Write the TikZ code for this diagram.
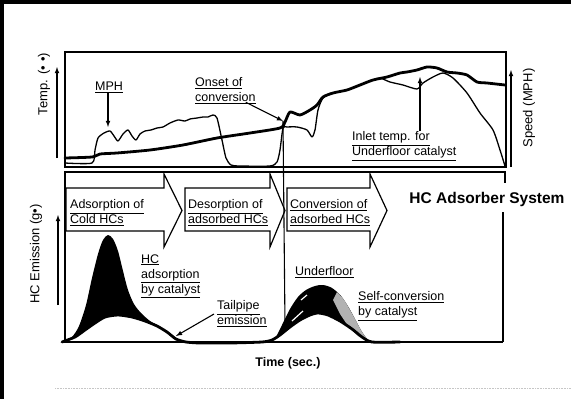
\documentclass[tikz,border=0pt]{standalone}
\usepackage{fontspec}
\setmainfont{Liberation Sans}
\usetikzlibrary{arrows,positioning}

\begin{document}
\begin{tikzpicture}[x=1pt,y=-1pt,
  lbl/.style={inner sep=0pt,font=\fontsize{12.5}{15}\selectfont,align=left},
  ax/.style={inner sep=0pt,font=\fontsize{13}{15}\selectfont,rotate=90},
  frm/.style={line width=1.1pt},
  spd/.style={line width=1.3pt,line join=round},
  tmp/.style={line width=2.8pt,line join=round,line cap=round},
  phase/.style={line width=1.2pt,line join=miter}]
\useasboundingbox (0,0) rectangle (571,399);

% scan border
\fill (0,0) rectangle (571,4);
\fill (0,0) rectangle (4,399);
\draw[gray!45,densely dotted,line width=0.6pt] (55,388) -- (571,388);

% upper panel
\draw[frm] (65,52) rectangle (506,167);
\draw[->,>=latex,frm] (57,158) -- (57,67);
\draw[->,>=latex,frm] (511,167) -- (511,70);
\node[ax] (temp) at (44,84) {Temp. (•\,\,•)};
\node[ax] (speed) at (529,108) {Speed (MPH)};

\draw[spd] plot[smooth,tension=0.4] coordinates{(65,163)(92,163)(95,150)(98,138)(104,133)(110,131)(114,136)(118,141)(123,134)(128,130)(132,136)(136,140)(140,134)(145,131)(151,130)(157,128)(163,127)(170,123)(178,120)(185,121)(190,119)(197,118)(203,117)(208,117)(213,115)(217,118)(222,140)(226,158)(231,165)(240,166)(270,166)(277,162)(280,150)(283,128)(287,127)(297,127)(307,130)(312,137)(315,130)(318,110)(323,98)(333,93)(347,90)(360,85)(373,80)(380,78)(390,82)(403,85)(417,89)(423,83)(433,77)(443,73)(453,78)(467,93)(480,113)(493,130)(500,150)(505,166)};%speed
\draw[tmp] plot[smooth,tension=0.4] coordinates{(65,158)(92,157)(100,154)(117,153)(150,150)(183,145)(217,138)(250,133)(280,128)(285,122)(290,112)(300,115)(310,110)(317,105)(323,97)(333,93)(347,90)(360,85)(373,80)(387,77)(400,73)(407,72)(417,70)(427,67)(437,68)(447,72)(457,73)(467,75)(477,82)(487,83)(505,85)};%inlet temp

\coordinate (mphpt) at (108,127);
\coordinate (onsetpt) at (283,121);
\coordinate (inletpt) at (420,77);

\node[lbl] (mph) at (109,87) {\underline{MPH}};
\node[lbl,anchor=west] (onset) at (195,91) {\underline{Onset of}\\\underline{conversion}};
\node[lbl,anchor=west] (inlet) at (352,146) {\underline{Inlet temp. for}\\\underline{Underfloor catalyst}};

\draw[->,>=latex,frm] (mph.south -| mphpt) -- (mphpt);
\draw[->,>=latex,frm] ([xshift=-10pt,yshift=2pt]onset.south east) -- (onsetpt);
\draw[->,>=latex,frm] (inlet.north -| inletpt) -- (inletpt);

% lower panel
\draw[frm] (65,180) -- (65,172) -- (505,172) -- (505,183);
\draw[frm] (65,172) -- (65,342);
\draw[frm] (503,212) -- (503,342);
\draw[frm] (62,342) -- (503,342);
\draw[frm] (onsetpt) -- (285,325);
\draw[->,>=latex,frm] (58,305) -- (58,215);
\node[ax] (hcem) at (36,254) {HC Emission (g•)};

\draw[phase] (66,188) -- (164,188) -- (164,174) -- (182,210.5) -- (164,247) -- (164,231) -- (66,231) -- cycle;
\draw[phase] (185,188) -- (270,188) -- (270,174) -- (285,210.5) -- (270,247) -- (270,231) -- (185,231) -- cycle;
\draw[phase] (287,188) -- (370,188) -- (370,174) -- (387,210.5) -- (370,247) -- (370,231) -- (287,231) -- cycle;
\node[lbl,anchor=west] (ph1) at (70,213) {\underline{Adsorption of}\\\underline{Cold HCs}};
\node[lbl,anchor=west] (ph2) at (188,213) {\underline{Desorption of}\\\underline{adsorbed HCs}};
\node[lbl,anchor=west] (ph3) at (290,213) {\underline{Conversion of}\\\underline{adsorbed HCs}};
\node[inner sep=0pt,font=\fontsize{15.5}{17}\selectfont\bfseries] (sys) at (487,199) {HC Adsorber System};

% emission humps
\fill plot[smooth,tension=0.5] coordinates{(64,342)(72,337)(79,326)(86,305)(92,278)(98,254)(103,240)(108,235)(113,239)(118,251)(123,271)(128,290)(134,304)(141,313)(150,321)(157,325)} -- plot[smooth,tension=0.5] coordinates{(157,325)(145,321)(132,317)(118,315)(105,317)(95,323)(85,330)(75,337)(64,342)} -- cycle;
\fill plot[smooth,tension=0.5] coordinates{(276,337)(282,325)(290,309)(298,297)(306,290)(315,286)(323,285)(332,288)(341,296)(349,308)(356,321)(362,332)(368,340)(372,342)} -- plot[smooth,tension=0.5] coordinates{(372,342)(362,337)(352,329)(340,321)(328,315)(318,313)(310,315)(300,320)(290,327)(276,337)} -- cycle;
\fill[gray!60] plot[smooth,tension=0.5] coordinates{(337,292)(344,300)(350,310)(356,321)(362,332)(367,339)} -- (358,336) -- (348,326) -- (340,314) -- (333,300) -- cycle;
\draw[white,line width=1.2pt] (292,321) -- (303,311);
\draw[white,line width=1.2pt] (301,300) -- (307,295);
\draw[tmp] plot[smooth,tension=0.4] coordinates{(62,342)(75,337)(85,330)(95,323)(105,317)(118,315)(132,317)(145,321)(157,326)(167,332)(176,339)(186,342)(200,343)(230,343)(262,342)(272,340)(280,335)(290,327)(300,320)(310,315)(318,313)(328,315)(340,321)(352,329)(362,337)(372,342)(400,342)};

\coordinate (tailpt) at (176,336);
\node[lbl,anchor=west] (hcads) at (141,276) {\underline{HC}\\\underline{adsorption}\\\underline{by catalyst}};
\node[lbl,anchor=west] (tail) at (217,314) {\underline{Tailpipe}\\\underline{emission}};
\node[lbl,anchor=west] (uf) at (295,272) {\underline{Underfloor}};
\node[lbl,anchor=west] (selfc) at (358,306) {\underline{Self-conversion}\\\underline{by catalyst}};
\draw[->,>=latex,frm] ([xshift=-3pt]tail.west) -- (tailpt);

\node[inner sep=0pt,font=\fontsize{12.5}{15}\selectfont\bfseries] (time) at (288,363) {Time (sec.)};
\end{tikzpicture}
\end{document}
